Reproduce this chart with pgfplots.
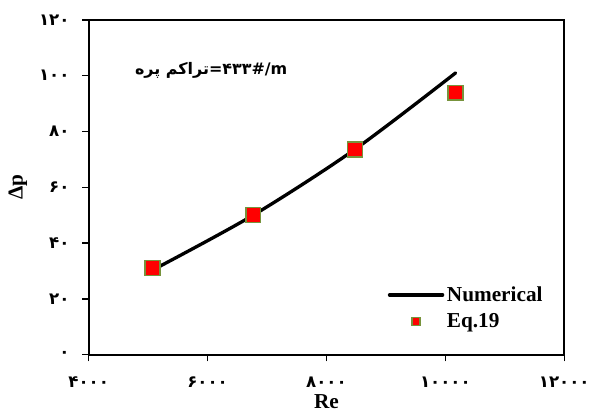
\documentclass[border=0pt]{standalone}
\usepackage{fontspec}
\setmainfont{Liberation Serif}
\newfontfamily\arabicfont[Script=Arabic]{DejaVu Sans}
\TeXXeTstate=1
\usepackage{pgfplots}
\pgfplotsset{compat=1.18}
\definecolor{mkedge}{HTML}{77933C}
\pgfplotsset{
  longline legend/.style={legend image code/.code={\draw[##1] (0pt,0pt) -- (40pt,0pt);}},
  smallmark legend/.style={legend image code/.code={\draw[##1, mark size=3pt] plot coordinates {(20pt,0pt)};}},
}

\begin{document}
\begin{tikzpicture}
\begin{axis}[
  scale only axis,
  width=358pt, height=252pt,
  xmin=4000, xmax=12000, ymin=0, ymax=120,
  xtick={4000,6000,8000,10000,12000},
  xticklabels={۴۰۰۰,۶۰۰۰,۸۰۰۰,۱۰۰۰۰,۱۲۰۰۰},
  scaled x ticks=false,
  ytick={0,20,40,60,80,100,120},
  yticklabels={۰,۲۰,۴۰,۶۰,۸۰,۱۰۰,۱۲۰},
  tick align=outside, tick pos=left,
  major tick length=5pt,
  axis line style={line width=1.4pt},
  every tick/.style={black, line width=1pt},
  tick label style={font=\arabicfont\bfseries\fontsize{12.5}{15}\selectfont},
  xticklabel style={yshift=-8pt},
  yticklabel style={xshift=-6pt},
  xlabel={Re}, ylabel={Δp},
  label style={font=\fontsize{16}{19}\selectfont\bfseries},
  xlabel style={at={(axis description cs:0.5,-0.14)}, anchor=center},
  ylabel style={at={(axis description cs:-0.149,0.5)}, anchor=center},
  legend style={draw=none, fill=none, at={(rel axis cs:0.62,0.22)}, anchor=north west,
    font=\fontsize{16}{19}\selectfont\bfseries, row sep=3.5pt},
  legend cell align=left,
  clip=false,
]
% Numerical
\addplot[black, line width=2.5pt, line cap=round, smooth, longline legend]
  coordinates {(5073,30.3) (6767,50.0) (8478,73.6) (10172,101.0)};
% Eq.19
\addplot[only marks, mark=square*, mark size=5.6pt,
  mark options={fill=red, draw=mkedge, line width=1.1pt}, smallmark legend]
  coordinates {(5073,31.1) (6767,50.0) (8478,73.6) (10172,93.9)};
\legend{Numerical, Eq.19}

\node[anchor=west, font=\arabicfont\bfseries\fontsize{12}{14}\selectfont]
  at (axis cs:4700,102) {\beginR تراکم پره\endR=۴۳۳\#/m};

\coordinate (bl) at (rel axis cs:-0.1866,-0.1786);
\coordinate (tr) at (rel axis cs:1.052,1.0595);
\end{axis}
\pgfresetboundingbox
\path (bl) rectangle (tr);
\end{tikzpicture}
\end{document}
